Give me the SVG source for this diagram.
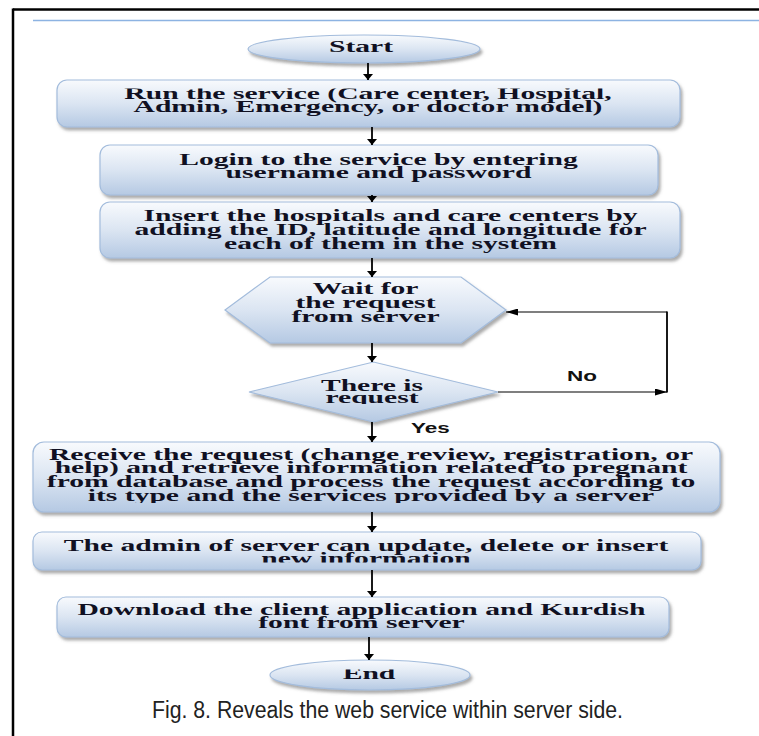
<svg xmlns="http://www.w3.org/2000/svg" width="759" height="736" viewBox="0 0 759 736">
<style>
.box{fill:url(#g);stroke:#a3bcdc;stroke-width:1.2;filter:url(#sh)}
.t{font-family:"Liberation Serif","Times New Roman",serif;font-weight:bold;font-size:16px;fill:#101022;text-anchor:middle}
.lbl{font-family:"Liberation Sans",Arial,sans-serif;font-weight:bold;font-size:15px;fill:#111}
.v{stroke:#000;stroke-width:1.8;fill:none;marker-end:url(#av)}
.h{stroke:#000;stroke-width:1.2;fill:none}
</style>
<defs>
<linearGradient id="g" x1="0" y1="0" x2="0" y2="1">
<stop offset="0" stop-color="#f8fafd"/>
<stop offset="0.5" stop-color="#dbe5f2"/>
<stop offset="1" stop-color="#b5c9e3"/>
</linearGradient>
<filter id="sh" x="-5%" y="-15%" width="112%" height="145%">
<feDropShadow dx="2" dy="3" stdDeviation="1.4" flood-color="#666" flood-opacity="0.55"/>
</filter>
<marker id="av" viewBox="0 0 6 10" refX="6" refY="5" markerWidth="6" markerHeight="10" markerUnits="userSpaceOnUse" orient="auto">
<path d="M0,0 L6,5 L0,10 z" fill="#000"/>
</marker>
<marker id="ah" viewBox="0 0 12 7" refX="12" refY="3.5" markerWidth="12" markerHeight="7" markerUnits="userSpaceOnUse" orient="auto">
<path d="M0,0 L12,3.5 L0,7 z" fill="#000"/>
</marker>
<clipPath id="cRun"><rect x="40" y="88.5" width="660" height="40"/></clipPath>
<clipPath id="cDia"><rect x="240" y="360" width="270" height="44"/></clipPath>
<clipPath id="cRec"><rect x="30" y="440" width="700" height="63"/></clipPath>
<clipPath id="cAdm"><rect x="30" y="530" width="680" height="32.5"/></clipPath>
<clipPath id="cEnd"><rect x="260" y="669.5" width="220" height="30"/></clipPath>
</defs>

<rect width="759" height="736" fill="#fff"/>
<g id="frame">
<line x1="13" y1="9.5" x2="759" y2="9.5" stroke="#000" stroke-width="2.5"/>
<line x1="13" y1="8.5" x2="13" y2="736" stroke="#000" stroke-width="2.5"/>
<line x1="33" y1="20.5" x2="759" y2="20.5" stroke="#8db3e2" stroke-width="1.5"/>
</g>

<g id="n-start">
<ellipse class="box" cx="364" cy="49" rx="116" ry="14"/>
<g transform="translate(361,0) scale(1.85,1)"><text class="t" x="0" y="52">Start</text></g>
</g>

<g id="n-run">
<rect class="box" x="57" y="80" width="623" height="47" rx="10"/>
<g clip-path="url(#cRun)"><g transform="translate(368,0) scale(1.85,1)">
<text class="t" x="0" y="99">Run the service (Care center, Hospital,</text>
<text class="t" x="0" y="112">Admin, Emergency, or doctor model)</text>
</g></g>
</g>

<g id="n-login">
<rect class="box" x="100" y="145" width="558" height="50" rx="10"/>
<g transform="translate(378.5,0) scale(1.85,1)">
<text class="t" x="0" y="165">Login to the service by entering</text>
<text class="t" x="0" y="178.5">username and password</text>
</g>
</g>

<g id="n-insert">
<rect class="box" x="100" y="202" width="580" height="56" rx="10"/>
<g transform="translate(390.5,0) scale(1.85,1)">
<text class="t" x="0" y="221">Insert the hospitals and care centers by</text>
<text class="t" x="0" y="235">adding the ID, latitude and longitude for</text>
<text class="t" x="0" y="249">each of them in the system</text>
</g>
</g>

<g id="n-wait">
<polygon class="box" points="225,310 270,277 461,277 506,310 461,343 270,343"/>
<g transform="translate(365.5,0) scale(1.85,1)">
<text class="t" x="0" y="294">Wait for</text>
<text class="t" x="0" y="308">the request</text>
<text class="t" x="0" y="322">from server</text>
</g>
</g>

<g id="n-decision">
<polygon class="box" points="249,392 373.5,362 498,392 373.5,422"/>
<g clip-path="url(#cDia)"><g transform="translate(372,0) scale(1.85,1)">
<text class="t" x="0" y="391">There is</text>
<text class="t" x="0" y="403.5">request</text>
</g></g>
</g>

<g id="n-receive">
<rect class="box" x="33" y="442" width="687" height="70" rx="11"/>
<g clip-path="url(#cRec)"><g transform="translate(371,0) scale(1.85,1)">
<text class="t" x="0" y="460">Receive the request (change review, registration, or</text>
<text class="t" x="0" y="473.5">help) and retrieve information related to pregnant</text>
<text class="t" x="0" y="487.5">from database and process the request according to</text>
<text class="t" x="0" y="501.5">its type and the services provided by a server</text>
</g></g>
</g>

<g id="n-admin">
<rect class="box" x="33" y="532" width="668" height="38" rx="9"/>
<g clip-path="url(#cAdm)"><g transform="translate(366,0) scale(1.85,1)">
<text class="t" x="0" y="551">The admin of server can update, delete or insert</text>
<text class="t" x="0" y="564.5">new information</text>
</g></g>
</g>

<g id="n-download">
<rect class="box" x="57" y="597" width="612" height="40" rx="9"/>
<g transform="translate(361.5,0) scale(1.85,1)">
<text class="t" x="0" y="615">Download the client application and Kurdish</text>
<text class="t" x="0" y="628">font from server</text>
</g>
</g>

<g id="n-end">
<ellipse class="box" cx="370" cy="675" rx="100" ry="15"/>
<g clip-path="url(#cEnd)"><g transform="translate(369,0) scale(1.85,1)">
<text class="t" x="0" y="679">End</text>
</g></g>
</g>

<g id="connectors">
<line class="v" x1="368" y1="63" x2="368" y2="80"/>
<line class="v" x1="372" y1="127" x2="372" y2="145"/>
<line class="v" x1="372" y1="195" x2="372" y2="202"/>
<line class="v" x1="372" y1="258" x2="372" y2="277"/>
<line class="v" x1="372" y1="343" x2="372" y2="362"/>
<line class="v" x1="372" y1="422" x2="372" y2="442"/>
<line class="v" x1="372" y1="512" x2="372" y2="532"/>
<line class="v" x1="372" y1="570" x2="372" y2="597"/>
<line class="v" x1="369" y1="637" x2="369" y2="660"/>
<path class="h" d="M498,392 H667" marker-end="url(#ah)"/>
<path class="h" d="M667,312 H506" marker-end="url(#ah)"/>
<line x1="667" y1="392.5" x2="667" y2="311.5" stroke="#000" stroke-width="1.8"/>
<g transform="translate(582,0) scale(1.5,1)"><text class="lbl" x="0" y="381" text-anchor="middle">No</text></g>
<g transform="translate(411,0) scale(1.5,1)"><text class="lbl" x="0" y="433">Yes</text></g>
</g>

<text x="387.5" y="718" text-anchor="middle" font-family="'Liberation Sans',Arial,sans-serif" font-size="23" fill="#222" textLength="471" lengthAdjust="spacingAndGlyphs">Fig. 8. Reveals the web service within server side.</text>
</svg>
